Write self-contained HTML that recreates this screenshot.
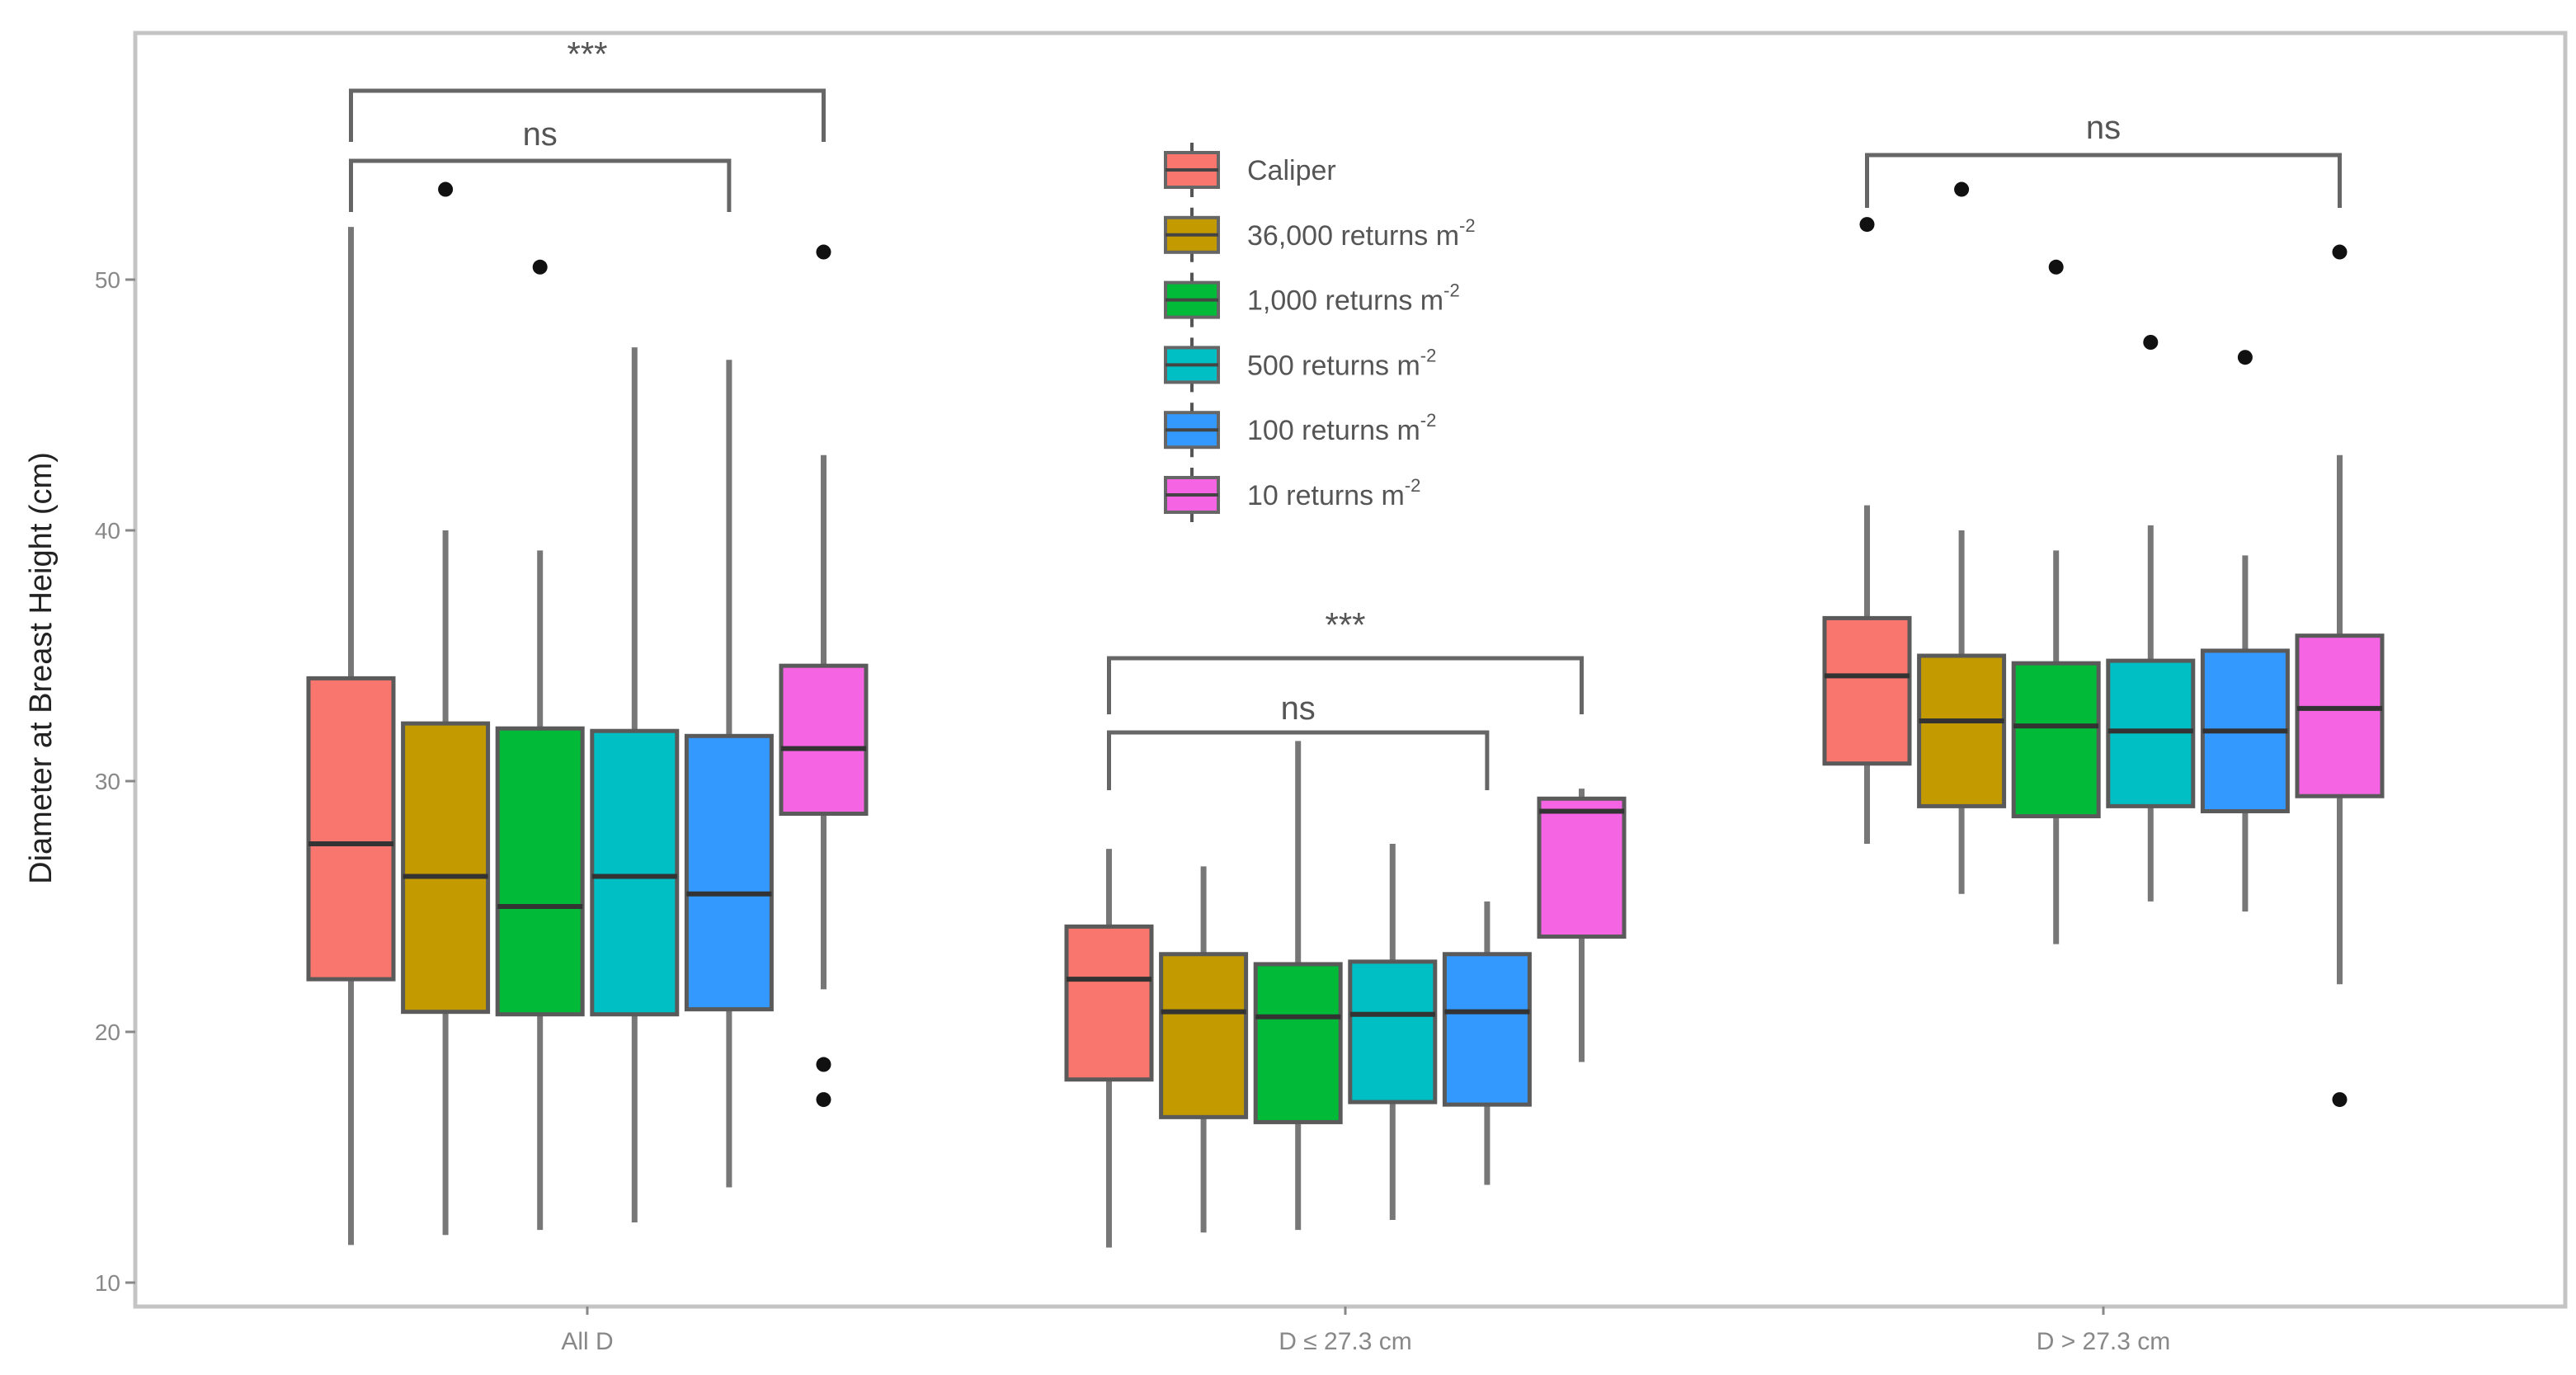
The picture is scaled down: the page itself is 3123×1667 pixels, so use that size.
<!DOCTYPE html>
<html><head><meta charset="utf-8"><style>
html,body{margin:0;padding:0;background:#fff;}
svg{display:block;font-family:"Liberation Sans",sans-serif;}
</style></head><body>
<svg id="chart" width="3123" height="1667" viewBox="0 0 3123 1667" xmlns="http://www.w3.org/2000/svg"></svg>
<script>
const groups = ["All D", "D \u2264 27.3 cm", "D > 27.3 cm"];
const seriesNames = ["Caliper","36,000 returns m","1,000 returns m","500 returns m","100 returns m","10 returns m"];
const seriesColors = ["#F8766D","#C39B00","#00BA38","#00BFC4","#3399FF","#F564E3"];
const yTicks = [10,20,30,40,50];
// [low, q1, median, q3, high] per group per series
const g1Stats = [[11.5,22.1,27.5,34.1,52.1],[11.9,20.8,26.2,32.3,40.0],[12.1,20.7,25.0,32.1,39.2],[12.4,20.7,26.2,32.0,47.3],[13.8,20.9,25.5,31.8,46.8],[21.7,28.7,31.3,34.6,43.0]];
const g2Stats = [[11.4,18.1,22.1,24.2,27.3],[12.0,16.6,20.8,23.1,26.6],[12.1,16.4,20.6,22.7,31.6],[12.5,17.2,20.7,22.8,27.5],[13.9,17.1,20.8,23.1,25.2],[18.8,23.8,28.8,29.3,29.7]];
const g3Stats = [[27.5,30.7,34.2,36.5,41.0],[25.5,29.0,32.4,35.0,40.0],[23.5,28.6,32.2,34.7,39.2],[25.2,29.0,32.0,34.8,40.2],[24.8,28.8,32.0,35.2,39.0],[21.9,29.4,32.9,35.8,43.0]];
const g1Outliers = [[],[53.6],[50.5],[],[],[51.1,18.7,17.3]];
const g2Outliers = [[],[],[],[],[],[]];
const g3Outliers = [[52.2],[53.6],[50.5],[47.5],[46.9],[51.1,17.3]];

const NS="http://www.w3.org/2000/svg";
const svg=document.getElementById('chart');
function mk(tag,attrs,parent){const e=document.createElementNS(NS,tag);for(const k in attrs)e.setAttribute(k,attrs[k]);(parent||svg).appendChild(e);return e;}
const PL=164,PR=3110,PT=40,PB=1584;
function y(v){return 1555-(v-10)*30.4;}
function xg(g){return 712+g*919;}
function xs(g,i){return xg(g)+(i-2.5)*114.6;}
const BW=103;

let panel=mk('rect',{x:PL,y:PT,width:PR-PL,height:PB-PT,fill:'#fff',stroke:'#c4c4c4','stroke-width':5});



yTicks.forEach(t=>{
  let tk=mk('line',{x1:PL-12,x2:PL,y1:y(t),y2:y(t),stroke:'#888','stroke-width':3});
  
  
  let tl=mk('text',{x:PL-18,y:y(t)+10,'text-anchor':'end','font-size':28,fill:'#888'});
  tl.textContent=t;
  
  
});
let yt=mk('text',{x:0,y:0,'font-size':38,fill:'#222','text-anchor':'middle',transform:'translate(62,810) rotate(-90)'});
yt.textContent='Diameter at Breast Height (cm)';



groups.forEach((g,gi)=>{
  let tk=mk('line',{x1:xg(gi),x2:xg(gi),y1:PB,y2:PB+10,stroke:'#888','stroke-width':3});
  
  
  let tl=mk('text',{x:xg(gi),y:1636,'text-anchor':'middle','font-size':30,fill:'#888'});
  tl.textContent=g;
  
  
});

const allStats=[g1Stats,g2Stats,g3Stats];
const allOut=[g1Outliers,g2Outliers,g3Outliers];
allStats.forEach((gs,gi)=>{
  gs.forEach((s,i)=>{
    const cx=xs(gi,i);
    let w=mk('line',{x1:cx,x2:cx,y1:y(s[0]),y2:y(s[4]),stroke:'#777','stroke-width':7});
    
    
    let b=mk('rect',{x:cx-BW/2,y:y(s[3]),width:BW,height:y(s[1])-y(s[3]),fill:seriesColors[i],stroke:'#5a5a5a','stroke-width':5});
    
    
    let m=mk('line',{x1:cx-BW/2,x2:cx+BW/2,y1:y(s[2]),y2:y(s[2]),stroke:'#333','stroke-width':6});
    
    
    allOut[gi][i].forEach(o=>{
      let c=mk('circle',{cx:cx,cy:y(o),r:9,fill:'#111'});
      
      
    });
  });
});

function bracket(x1,x2,yh,yl,label,ly){
  let p=mk('path',{d:`M${x1},${yl} V${yh} H${x2} V${yl}`,fill:'none',stroke:'#666','stroke-width':5});
  
  
  let t=mk('text',{x:(x1+x2)/2,y:ly,'text-anchor':'middle','font-size':label==='ns'?40:42,fill:'#555'});
  t.textContent=label;
  
  
}
bracket(xs(0,0),xs(0,5),110,172,'***',80);
bracket(xs(0,0),xs(0,4),195,257,'ns',176);
bracket(xs(1,0),xs(1,5),798,866,'***',772);
bracket(xs(1,0),xs(1,4),888,958,'ns',872);
bracket(xs(2,0),xs(2,5),188,252,'ns',168);

const lg=mk('g',{});


seriesNames.forEach((n,i)=>{
  const cy=206+i*78.8;
  let l=mk('line',{x1:1445,x2:1445,y1:cy-33,y2:cy+33,stroke:'#555','stroke-width':4},lg);
  
  
  let r=mk('rect',{x:1413,y:cy-21,width:64,height:42,fill:seriesColors[i],stroke:'#666','stroke-width':4},lg);
  
  
  let m=mk('line',{x1:1413,x2:1477,y1:cy,y2:cy,stroke:'#444','stroke-width':4},lg);
  
  
  let t=mk('text',{x:1512,y:cy+12,'font-size':34,fill:'#555'},lg);
  t.textContent=n;
  if(i>0){let s=mk('tspan',{'font-size':22,dy:-16},t);s.textContent='-2';}
  
  
});
</script>
</body></html>
